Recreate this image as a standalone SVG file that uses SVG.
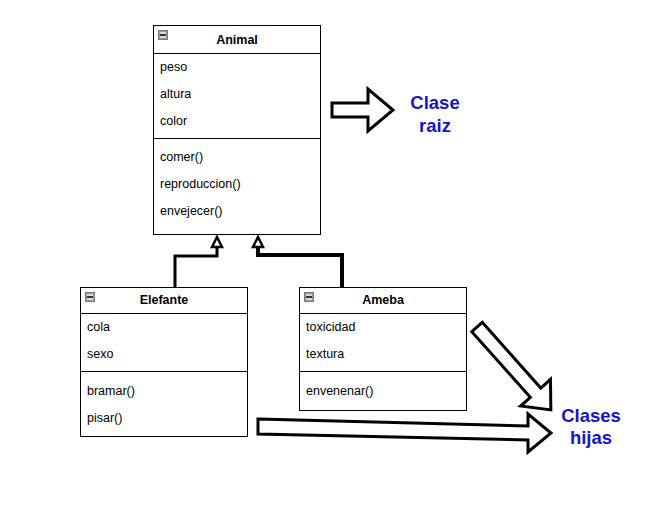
<svg xmlns="http://www.w3.org/2000/svg" width="646" height="507" viewBox="0 0 646 507">
<style>
.box{fill:#fff;stroke:#000;stroke-width:1}
.sep{stroke:#000;stroke-width:1}
.t{font-family:"Liberation Sans",Arial,sans-serif;font-size:12.5px;fill:#000}
.h{font-family:"Liberation Sans",Arial,sans-serif;font-size:12.5px;font-weight:bold;fill:#000;text-anchor:middle}
.lbl{font-family:"Liberation Sans",Arial,sans-serif;font-size:18.5px;font-weight:bold;fill:#1515C8;text-anchor:middle}
.blk{fill:#fff;stroke:#000;stroke-width:3;stroke-linejoin:miter}
.conn{fill:none;stroke:#000}
.head{fill:#fff;stroke:#000;stroke-width:2.5}
</style>
<defs>
<g id="icon">
<rect x="0" y="0" width="9" height="9" fill="#9a9a9a" stroke="#7a7a7a" stroke-width="1"/>
<rect x="1.5" y="1.5" width="6" height="6" fill="#d8d8d8"/>
<line x1="1.5" y1="4.5" x2="7.5" y2="4.5" stroke="#000" stroke-width="1.5"/>
</g>
</defs>
<rect width="646" height="507" fill="#fff"/>

<g id="animal">
<rect class="box" x="153.5" y="25.5" width="167" height="209"/>
<use href="#icon" x="158.5" y="30.5"/>
<text class="h" x="237" y="44">Animal</text>
<line class="sep" x1="153.5" y1="53.5" x2="320.5" y2="53.5"/>
<text class="t" x="160" y="71">peso</text>
<text class="t" x="160" y="98">altura</text>
<text class="t" x="160" y="125">color</text>
<line class="sep" x1="153.5" y1="138.5" x2="320.5" y2="138.5"/>
<text class="t" x="160" y="161">comer()</text>
<text class="t" x="160" y="188">reproduccion()</text>
<text class="t" x="160" y="215">envejecer()</text>
</g>

<g id="elefante">
<rect class="box" x="80.5" y="287.5" width="167" height="149"/>
<use href="#icon" x="85.5" y="292.5"/>
<text class="h" x="164" y="304">Elefante</text>
<line class="sep" x1="80.5" y1="313.5" x2="247.5" y2="313.5"/>
<text class="t" x="87" y="331">cola</text>
<text class="t" x="87" y="358">sexo</text>
<line class="sep" x1="80.5" y1="371.5" x2="247.5" y2="371.5"/>
<text class="t" x="87" y="395">bramar()</text>
<text class="t" x="87" y="422">pisar()</text>
</g>

<g id="ameba">
<rect class="box" x="299.5" y="287.5" width="167" height="123"/>
<use href="#icon" x="304.5" y="292.5"/>
<text class="h" x="383" y="304">Ameba</text>
<line class="sep" x1="299.5" y1="313.5" x2="466.5" y2="313.5"/>
<text class="t" x="306" y="331">toxicidad</text>
<text class="t" x="306" y="358">textura</text>
<line class="sep" x1="299.5" y1="371.5" x2="466.5" y2="371.5"/>
<text class="t" x="306" y="395">envenenar()</text>
</g>

<g id="connectors">
<polyline class="conn" stroke-width="3" points="175,287 175,256 217,256 217,247"/>
<polygon class="head" points="217,237 222,247 212,247"/>
<polyline class="conn" stroke-width="4" points="342,287 342,255 258,255 258,247"/>
<polygon class="head" points="258,237 263,247 253,247"/>
</g>

<g id="arrow-raiz">
<polygon class="blk" points="332,103 368,103 368,89 393,110 368,131 368,117 332,117"/>
<text class="lbl" x="435" y="109">Clase</text>
<text class="lbl" x="435" y="132">raiz</text>
</g>

<g id="arrow-hijas">
<g transform="translate(477,327) rotate(48.3)">
<polygon class="blk" points="0,-7 88,-7 88,-20 111,0 88,20 88,7 0,7"/>
</g>
<polygon class="blk" points="258,419 528,426 528,414 551,433 528,452 528,440 258,434"/>
<text class="lbl" x="591" y="422">Clases</text>
<text class="lbl" x="591" y="444">hijas</text>
</g>
</svg>
